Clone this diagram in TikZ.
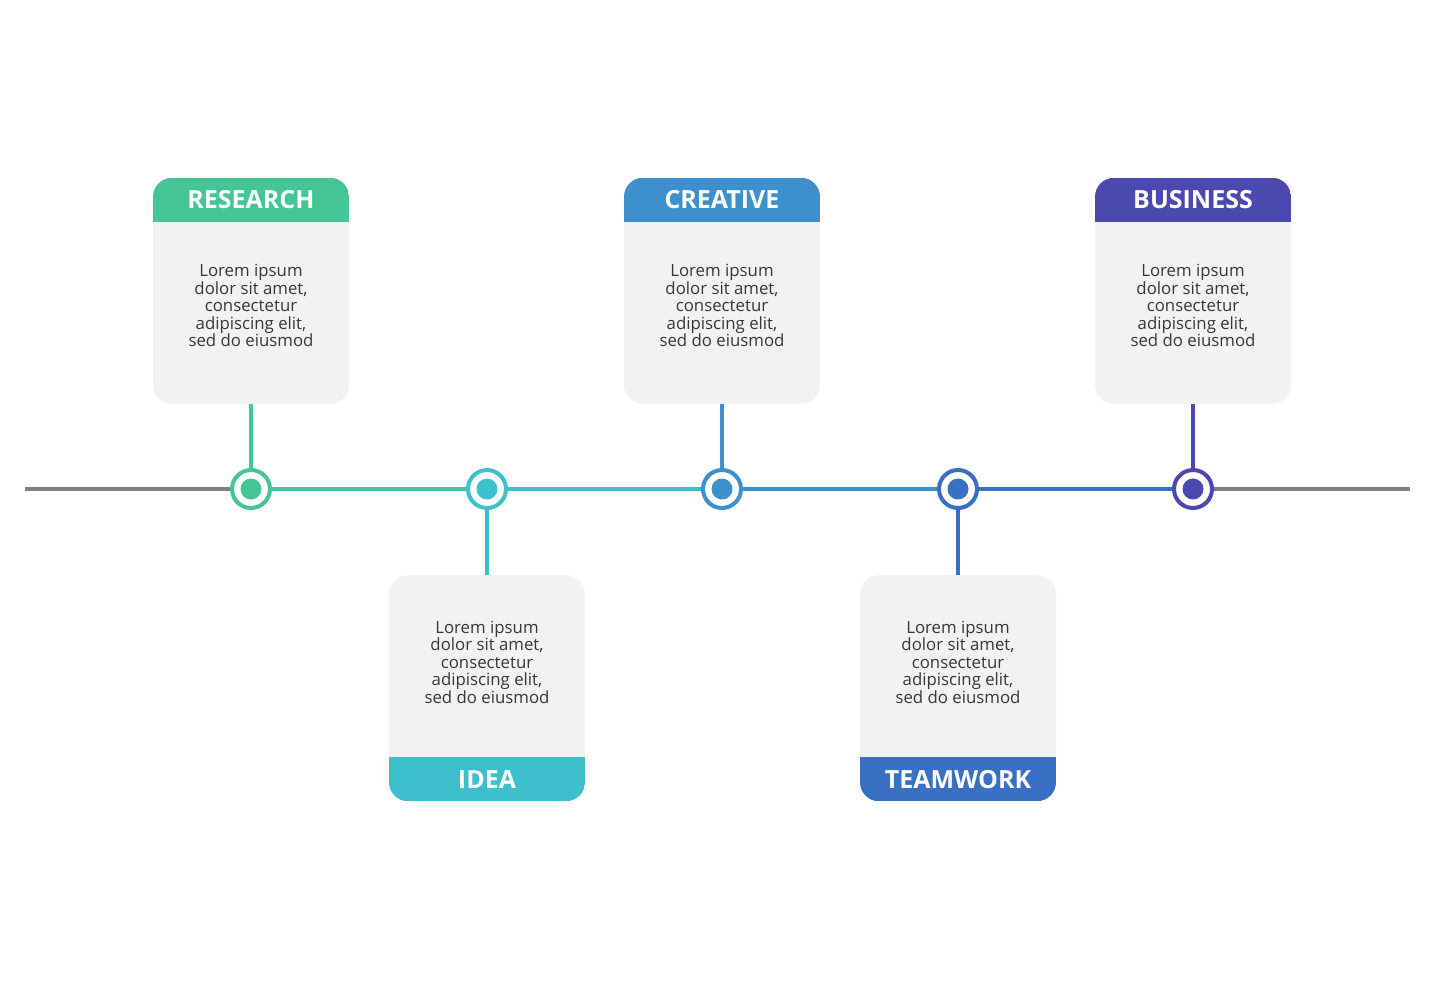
\documentclass[tikz,border=0pt]{standalone}
\usepackage{fontspec}
\setmainfont{Open Sans}
\usepackage{tikz}
\usetikzlibrary{positioning}
\definecolor{mygreen}{RGB}{69,196,150}
\definecolor{myteal}{RGB}{62,191,204}
\definecolor{myblue}{RGB}{61,144,205}
\definecolor{myroyal}{RGB}{58,112,196}
\definecolor{myviolet}{RGB}{75,72,176}
\definecolor{mygray}{RGB}{128,128,128}
\definecolor{cardfill}{RGB}{242,242,242}
\definecolor{mytext}{RGB}{55,55,55}
\tikzset{
  topcard/.style={rectangle, fill=cardfill, rounded corners=19pt,
    minimum width=196pt, minimum height=226pt, inner sep=0pt,
    path picture={\fill[#1, sharp corners] (path picture bounding box.north west)
      rectangle ([yshift=-44pt]path picture bounding box.north east);}},
  botcard/.style={rectangle, fill=cardfill, rounded corners=19pt,
    minimum width=196pt, minimum height=226pt, inner sep=0pt,
    path picture={\fill[#1, sharp corners] (path picture bounding box.south west)
      rectangle ([yshift=44pt]path picture bounding box.south east);}},
  dot/.style={circle, draw=#1, fill=white, line width=4pt,
    minimum size=38pt, inner sep=0pt},
  stem/.style={line width=3.5pt, color=#1},
  base/.style={line width=4pt, color=mygray},
  title/.style={font=\fontsize{25}{28}\selectfont\bfseries, text=white},
  body/.style={font=\fontsize{16.8}{17.5}\selectfont, text=mytext, align=center}
}
\begin{document}
\begin{tikzpicture}[x=1pt, y=-1pt]
\useasboundingbox (0,0) rectangle (1435,980);
% timeline points
\node[dot=mygreen]  (dot1) at (251,489) {};
\node[dot=myteal]   (dot2) at (487,489) {};
\node[dot=myblue]   (dot3) at (722,489) {};
\node[dot=myroyal]  (dot4) at (958,489) {};
\node[dot=myviolet] (dot5) at (1193,489) {};
\coordinate (start) at (25,489);
\coordinate (end) at (1410,489);
\draw[base] (start) -- (dot1);
\draw[base] (dot5) -- (end);
\draw[stem=mygreen] (dot1) -- (dot2);
\draw[stem=myteal] (dot2) -- (dot3);
\draw[stem=myblue] (dot3) -- (dot4);
\draw[stem=myroyal] (dot4) -- (dot5);
\fill[mygreen]  (dot1) circle (10.5pt);
\fill[myteal]   (dot2) circle (10.5pt);
\fill[myblue]   (dot3) circle (10.5pt);
\fill[myroyal]  (dot4) circle (10.5pt);
\fill[myviolet] (dot5) circle (10.5pt);
% RESEARCH
\node[topcard=mygreen, above=64pt of dot1] (card1) {};
\node[title] (title1) at ([yshift=-22pt]card1.north) {RESEARCH};
\node[body] (text1) at ([yshift=-15pt]card1.center) {Lorem ipsum\\dolor sit amet,\\consectetur\\adipiscing elit,\\sed do eiusmod};
\draw[stem=mygreen] (card1) -- (dot1);
% IDEA
\node[botcard=myteal, below=65pt of dot2] (card2) {};
\node[title] (title2) at ([yshift=22pt]card2.south) {IDEA};
\node[body] (text2) at ([yshift=26pt]card2.center) {Lorem ipsum\\dolor sit amet,\\consectetur\\adipiscing elit,\\sed do eiusmod};
\draw[stem=myteal] (dot2) -- (card2);
% CREATIVE
\node[topcard=myblue, above=64pt of dot3] (card3) {};
\node[title] (title3) at ([yshift=-22pt]card3.north) {CREATIVE};
\node[body] (text3) at ([yshift=-15pt]card3.center) {Lorem ipsum\\dolor sit amet,\\consectetur\\adipiscing elit,\\sed do eiusmod};
\draw[stem=myblue] (card3) -- (dot3);
% TEAMWORK
\node[botcard=myroyal, below=65pt of dot4] (card4) {};
\node[title] (title4) at ([yshift=22pt]card4.south) {TEAMWORK};
\node[body] (text4) at ([yshift=26pt]card4.center) {Lorem ipsum\\dolor sit amet,\\consectetur\\adipiscing elit,\\sed do eiusmod};
\draw[stem=myroyal] (dot4) -- (card4);
% BUSINESS
\node[topcard=myviolet, above=64pt of dot5] (card5) {};
\node[title] (title5) at ([yshift=-22pt]card5.north) {BUSINESS};
\node[body] (text5) at ([yshift=-15pt]card5.center) {Lorem ipsum\\dolor sit amet,\\consectetur\\adipiscing elit,\\sed do eiusmod};
\draw[stem=myviolet] (card5) -- (dot5);
\end{tikzpicture}
\end{document}
